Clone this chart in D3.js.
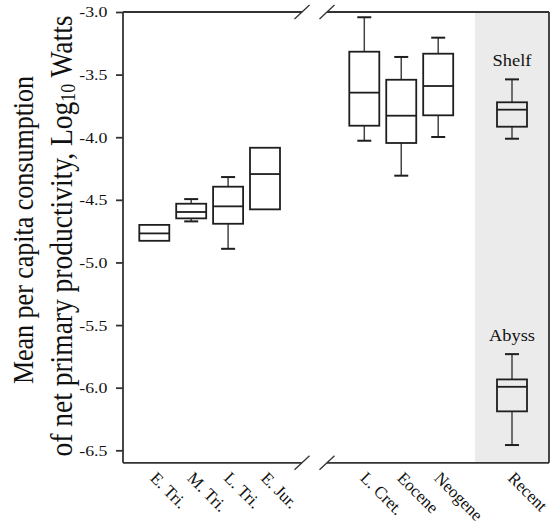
<!DOCTYPE html>
<html>
<head>
<meta charset="utf-8">
<script src="https://cdn.jsdelivr.net/npm/d3@7"></script>
<style>
  html, body { margin: 0; padding: 0; background: #fff; }
  svg { display: block; font-family: "Liberation Serif", "Times New Roman", serif; }
</style>
</head>
<body>
<svg id="chart" width="557" height="528"></svg>
<script>
// ---------------- data ----------------
const earlyCategories = ["E. Tri.", "M. Tri.", "L. Tri.", "E. Jur."];
const lateCategories = ["L. Cret.", "Eocene", "Neogene"];
const recentCategory = ["Recent"];

// box statistics for the fossil intervals (Log10 Watts)
const whiskerLow  = [null,   -4.672, -4.891, null,   -4.028, -4.307, -3.998];
const quartile1   = [-4.827, -4.648, -4.691, -4.576, -3.908, -4.046, -3.825];
const medians     = [-4.768, -4.597, -4.552, -4.294, -3.644, -3.828, -3.591];
const quartile3   = [-4.700, -4.531, -4.395, -4.084, -3.317, -3.541, -3.333];
const whiskerHigh = [null,   -4.494, -4.318, null,   -3.042, -3.359, -3.205];

// recent environments
const recentGroups = ["Shelf", "Abyss"];
const recentLow    = [-4.012, -6.458];
const recentQ1     = [-3.916, -6.189];
const recentMedian = [-3.780, -5.993];
const recentQ3     = [-3.721, -5.934];
const recentHigh   = [-3.538, -5.732];

const yTickValues = [-3.0, -3.5, -4.0, -4.5, -5.0, -5.5, -6.0, -6.5];
const yTickLabels = ["-3.0", "-3.5", "-4.0", "-4.5", "-5.0", "-5.5", "-6.0", "-6.5"];
const yTitleLine1 = "Mean per capita consumption";
const yTitleLine2a = "of net primary productivity, Log";
const yTitleSub = "10";
const yTitleLine2b = " Watts";

// ---------------- layout ----------------
const svg = d3.select("#chart");
const plotLeft = 123, plotRight = 549, plotTop = 12;
const breakA = 302, breakB = 327;     // axis break
const panelLeft = 475;                // shaded "Recent" panel
const STRETCH = 1.15;                 // horizontal text stretch of the original
const BOX_W = 30, CAP_W = 14;
const frameColor = "#333", boxColor = "#1e1e1e", whiskerColor = "#444";

const y = d3.scaleLinear().domain([-3.0, -6.5]).range([plotTop, 450.3]);
const plotBottom = y(-6.6);

const xEarly = d3.scalePoint().domain(earlyCategories).range([154.3, 265]);
const xLate = d3.scalePoint().domain(lateCategories).range([364.3, 438.2]);
const xRecent = d3.scaleBand().domain(recentCategory).range([panelLeft, plotRight]);
const xPos = c => earlyCategories.includes(c) ? xEarly(c)
               : lateCategories.includes(c) ? xLate(c)
               : xRecent(c) + xRecent.bandwidth() / 2;

// shaded panel
svg.append("rect")
  .attr("x", panelLeft).attr("y", plotTop)
  .attr("width", plotRight - panelLeft).attr("height", plotBottom - plotTop)
  .attr("fill", "#ebebeb");

// ---------------- frame with break ----------------
const frame = svg.append("g").attr("stroke", frameColor).attr("stroke-width", 1.8).attr("fill", "none");
frame.append("line").attr("x1", plotLeft).attr("x2", plotLeft).attr("y1", plotTop).attr("y2", plotBottom);
frame.append("line").attr("x1", plotRight).attr("x2", plotRight).attr("y1", plotTop).attr("y2", plotBottom);
[plotTop, plotBottom].forEach(yy => {
  frame.append("line").attr("x1", plotLeft).attr("x2", breakA).attr("y1", yy).attr("y2", yy);
  frame.append("line").attr("x1", breakB).attr("x2", plotRight).attr("y1", yy).attr("y2", yy);
  [breakA, breakB].forEach(bx => {
    frame.append("line")
      .attr("x1", bx - 7.5).attr("y1", yy + 7)
      .attr("x2", bx + 7.5).attr("y2", yy - 7)
      .attr("stroke-width", 1.3);
  });
});

// ---------------- y axis ----------------
const yAxis = d3.axisLeft(y)
  .tickValues(yTickValues)
  .tickFormat((d, i) => yTickLabels[i])
  .tickSize(7)
  .tickPadding(6.5);
const yg = svg.append("g").attr("transform", `translate(${plotLeft},0)`).call(yAxis);
yg.select(".domain").remove();
yg.selectAll(".tick line").attr("stroke", frameColor).attr("stroke-width", 1.8);
yg.selectAll(".tick text")
  .attr("font-family", "Liberation Serif, serif")
  .attr("font-size", 15.5)
  .attr("fill", "#111")
  .attr("transform", `scale(${STRETCH},1)`);

// y title
const title = svg.append("g").attr("fill", "#111");
title.append("text")
  .attr("font-size", 26)
  .attr("text-anchor", "middle")
  .attr("transform", `translate(33,230) scale(${STRETCH},1) rotate(-90)`)
  .text(yTitleLine1);
const t2 = title.append("text")
  .attr("font-size", 27.5)
  .attr("text-anchor", "middle")
  .attr("transform", `translate(72,236) scale(${STRETCH},1) rotate(-90)`);
t2.append("tspan").text(yTitleLine2a);
t2.append("tspan").attr("font-size", 18).attr("dy", 3).text(yTitleSub);
t2.append("tspan").attr("dy", -3).text(yTitleLine2b);

// ---------------- x labels ----------------
const allCategories = earlyCategories.concat(lateCategories, recentCategory);
svg.append("g").selectAll("text").data(allCategories).join("text")
  .attr("font-family", "Liberation Serif, serif")
  .style("font-size", "17px")
  .attr("fill", "#111")
  .attr("text-anchor", "start")
  .attr("transform", d => `translate(${xPos(d) - 5},479) rotate(45)`)
  .text(d => d);

// ---------------- boxes ----------------
function drawBox(g, cx, lo, q1, med, q3, hi) {
  if (hi != null) {
    g.append("line").attr("x1", cx).attr("x2", cx).attr("y1", y(hi)).attr("y2", y(q3))
      .attr("stroke", whiskerColor).attr("stroke-width", 1.5);
    g.append("line").attr("x1", cx - CAP_W / 2).attr("x2", cx + CAP_W / 2).attr("y1", y(hi)).attr("y2", y(hi))
      .attr("stroke", boxColor).attr("stroke-width", 2);
  }
  if (lo != null) {
    g.append("line").attr("x1", cx).attr("x2", cx).attr("y1", y(q1)).attr("y2", y(lo))
      .attr("stroke", whiskerColor).attr("stroke-width", 1.5);
    g.append("line").attr("x1", cx - CAP_W / 2).attr("x2", cx + CAP_W / 2).attr("y1", y(lo)).attr("y2", y(lo))
      .attr("stroke", boxColor).attr("stroke-width", 2);
  }
  g.append("rect")
    .attr("x", cx - BOX_W / 2).attr("y", y(q3))
    .attr("width", BOX_W).attr("height", y(q1) - y(q3))
    .attr("fill", "none").attr("stroke", boxColor).attr("stroke-width", 1.8);
  g.append("line").attr("x1", cx - BOX_W / 2).attr("x2", cx + BOX_W / 2)
    .attr("y1", y(med)).attr("y2", y(med))
    .attr("stroke", boxColor).attr("stroke-width", 1.8);
}

const boxes = svg.append("g");
earlyCategories.concat(lateCategories).forEach((c, i) => {
  drawBox(boxes.append("g"), xPos(c), whiskerLow[i], quartile1[i], medians[i], quartile3[i], whiskerHigh[i]);
});
const recentX = xPos("Recent");
recentGroups.forEach((g, i) => {
  drawBox(boxes.append("g"), recentX, recentLow[i], recentQ1[i], recentMedian[i], recentQ3[i], recentHigh[i]);
  svg.append("text")
    .attr("font-size", 16).attr("fill", "#111").attr("text-anchor", "middle")
    .attr("transform", `translate(${recentX},${y(recentHigh[i]) - 13.5}) scale(${STRETCH},1)`)
    .text(g);
});
</script>
</body>
</html>
